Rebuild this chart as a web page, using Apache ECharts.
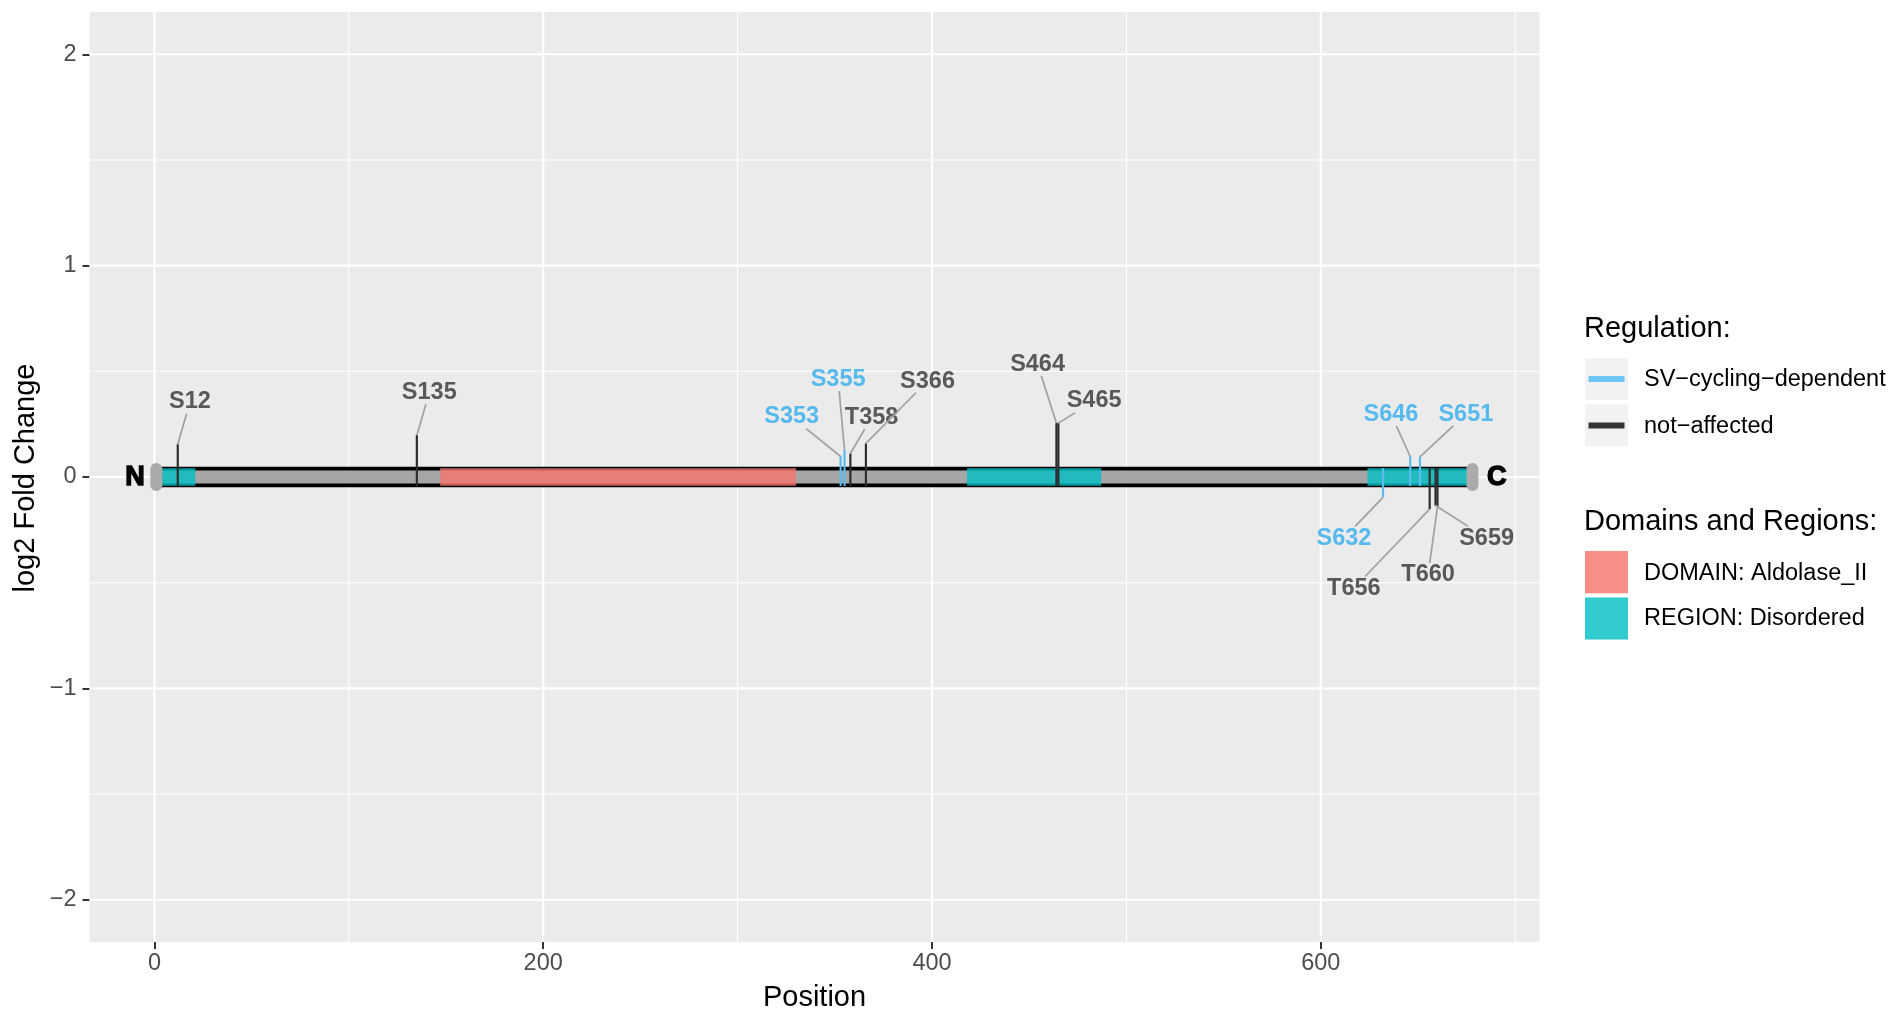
<!DOCTYPE html>
<html><head><meta charset="utf-8">
<script src="https://cdn.jsdelivr.net/npm/echarts@6/dist/echarts.min.js"></script>
<style>html,body{margin:0;padding:0;background:#fff}#c{width:1897px;height:1012px}</style>
</head><body><div id="c"></div>
<script>
// ---------------- data ----------------
const proteinLength = 678;
const domainNames = ['DOMAIN: Aldolase_II', 'REGION: Disordered', 'REGION: Disordered', 'REGION: Disordered'];
const domainStart = [147, 1, 418, 624];
const domainEnd = [330, 21, 487, 678];

const siteNames = ['S12', 'S135', 'S353', 'S355', 'T358', 'S366', 'S464', 'S465', 'S632', 'S646', 'S651', 'T656', 'S659', 'T660'];
const sitePos = [12, 135, 353, 355, 358, 366, 464, 465, 632, 646, 651, 656, 659, 660];
const siteLFC = [0.155, 0.198, 0.097, 0.127, 0.111, 0.159, 0.255, 0.255, -0.096, 0.097, 0.095, -0.152, -0.135, -0.142];
const siteRegulation = ['not-affected', 'not-affected', 'SV-cycling-dependent', 'SV-cycling-dependent', 'not-affected', 'not-affected', 'not-affected', 'not-affected', 'SV-cycling-dependent', 'SV-cycling-dependent', 'SV-cycling-dependent', 'not-affected', 'not-affected', 'not-affected'];
// repelled label positions (data units)
const labelX = [18.3, 141.4, 327.8, 351.7, 368.9, 397.7, 454.3, 483.4, 611.9, 636.1, 674.6, 617.0, 685.3, 655.2];
const labelY = [0.355, 0.400, 0.284, 0.462, 0.282, 0.454, 0.533, 0.360, -0.289, 0.297, 0.297, -0.526, -0.289, -0.462];

const xMajorTicks = [0, 200, 400, 600];
const xMinorTicks = [100, 300, 500, 700];
const yMajorTicks = [-2, -1, 0, 1, 2];
const yMinorTicks = [-1.5, -0.5, 0.5, 1.5];

const regulationLevels = ['SV-cycling-dependent', 'not-affected'];
const regulationLabels = ['SV\u2212cycling\u2212dependent', 'not\u2212affected'];
const domainLevels = ['DOMAIN: Aldolase_II', 'REGION: Disordered'];

// ---------------- styles ----------------
const FONT = '"Liberation Sans", Arial, Helvetica, sans-serif';
const regColor = {'SV-cycling-dependent': '#5ABBF0', 'not-affected': '#2E2E2E'};
const regTextColor = {'SV-cycling-dependent': '#56B9EE', 'not-affected': '#595959'};
const domColor = {'DOMAIN: Aldolase_II': 'rgba(248,118,109,0.8)', 'REGION: Disordered': 'rgba(0,191,196,0.8)'};

const measureCtx = document.createElement('canvas').getContext('2d');
measureCtx.font = 'bold 23.5px ' + FONT;

const chart = echarts.init(document.getElementById('c'), null, {renderer: 'canvas'});

const gridItems = [];
xMajorTicks.forEach(v => gridItems.push([v, 0]));
xMinorTicks.forEach(v => gridItems.push([v, 1]));
yMajorTicks.forEach(v => gridItems.push([v, 2]));
yMinorTicks.forEach(v => gridItems.push([v, 3]));

const fmtNum = v => v < 0 ? '\u2212' + Math.abs(v) : String(v);

const option = {
  animation: false,
  backgroundColor: '#ffffff',
  grid: {left: 89.5, right: 357.5, top: 12, bottom: 70, show: true, backgroundColor: '#EBEBEB', borderWidth: 0},
  xAxis: {
    type: 'value', min: -33.4, max: 712.5, position: 'bottom',
    axisLine: {show: false, onZero: false},
    splitLine: {show: false},
    axisTick: {show: true, inside: false, length: 7, lineStyle: {color: '#333333', width: 2}, customValues: xMajorTicks},
    axisLabel: {customValues: xMajorTicks, fontSize: 23.5, color: '#4D4D4D', fontFamily: FONT, margin: 10, formatter: fmtNum}
  },
  yAxis: {
    type: 'value', min: -2.2, max: 2.2, position: 'left',
    axisLine: {show: false, onZero: false},
    splitLine: {show: false},
    axisTick: {show: true, inside: false, length: 7, lineStyle: {color: '#333333', width: 2}, customValues: yMajorTicks},
    axisLabel: {customValues: yMajorTicks, fontSize: 23.5, color: '#4D4D4D', fontFamily: FONT, margin: 13, formatter: fmtNum}
  },
  series: [
    // grid lines
    {
      type: 'custom', silent: true, clip: false,
      data: gridItems,
      renderItem: (params, api) => {
        const v = api.value(0), k = api.value(1);
        const cs = params.coordSys;
        if (k < 2) {
          const x = api.coord([v, 0])[0];
          return {type: 'line', shape: {x1: x, y1: cs.y, x2: x, y2: cs.y + cs.height}, style: {stroke: '#FFFFFF', lineWidth: k === 0 ? 2.2 : 1.1}};
        } else {
          const y = api.coord([0, v])[1];
          return {type: 'line', shape: {x1: cs.x, y1: y, x2: cs.x + cs.width, y2: y}, style: {stroke: '#FFFFFF', lineWidth: k === 2 ? 2.2 : 1.1}};
        }
      }
    },
    // backbone
    {
      type: 'custom', silent: true,
      data: [[1, proteinLength]],
      renderItem: (params, api) => {
        const a = api.coord([api.value(0), 0]);
        const b = api.coord([api.value(1), 0]);
        return {type: 'group', children: [
          {type: 'rect', shape: {x: a[0], y: a[1] - 10.3, width: b[0] - a[0], height: 20.6}, style: {fill: '#000000'}},
          {type: 'rect', shape: {x: a[0], y: a[1] - 6.6, width: b[0] - a[0], height: 13.2}, style: {fill: '#A6A6A6'}}
        ]};
      }
    },
    // domains / regions
    {
      type: 'custom', silent: true,
      data: domainStart.map((s, i) => [s, domainEnd[i], i]),
      renderItem: (params, api) => {
        const a = api.coord([api.value(0), 0]);
        const b = api.coord([api.value(1), 0]);
        const name = domainNames[api.value(2)];
        return {type: 'rect', shape: {x: a[0], y: a[1] - 8.7, width: b[0] - a[0], height: 17.4}, style: {fill: domColor[name]}};
      }
    },
    // terminal caps
    {
      type: 'custom', silent: true,
      data: [[1, 0], [proteinLength, 0]],
      renderItem: (params, api) => {
        const p = api.coord([api.value(0), 0]);
        return {type: 'rect', shape: {x: p[0] - 6, y: p[1] - 14, width: 12, height: 28, r: 6}, style: {fill: '#AAAAAA'}};
      }
    },
    // phosphosite lines
    {
      type: 'custom', silent: true,
      data: sitePos.map((p, i) => [p, siteLFC[i], i]),
      renderItem: (params, api) => {
        const i = api.value(2);
        const v = api.value(1);
        const top = api.coord([api.value(0), v]);
        const base = api.coord([api.value(0), 0]);
        const by = v >= 0 ? base[1] + 9 : base[1] - 9;
        return {type: 'line', shape: {x1: top[0], y1: by, x2: top[0], y2: top[1]}, style: {stroke: regColor[siteRegulation[i]], lineWidth: 2.2}};
      }
    },
    // repel connectors + labels
    {
      type: 'custom', silent: true, clip: false,
      data: labelX.map((x, i) => [x, labelY[i], i]),
      renderItem: (params, api) => {
        const i = api.value(2);
        const c = api.coord([labelX[i], labelY[i]]);
        const p = api.coord([sitePos[i], siteLFC[i]]);
        const tw = measureCtx.measureText(siteNames[i]).width;
        const hw = tw / 2 + 5.5, hh = 11.7;
        const dx = p[0] - c[0], dy = p[1] - c[1];
        const t = Math.min(Math.abs(dx) > 0 ? hw / Math.abs(dx) : Infinity, Math.abs(dy) > 0 ? hh / Math.abs(dy) : Infinity);
        const children = [];
        if (t < 1) {
          children.push({type: 'line', shape: {x1: p[0], y1: p[1], x2: c[0] + dx * t, y2: c[1] + dy * t}, style: {stroke: '#A0A0A0', lineWidth: 1.7}});
        }
        children.push({type: 'text', x: c[0], y: c[1], style: {text: siteNames[i], fill: regTextColor[siteRegulation[i]], font: 'bold 23.5px ' + FONT, align: 'center', verticalAlign: 'middle'}});
        return {type: 'group', children: children};
      }
    },
    // N / C terminal labels
    {
      type: 'custom', silent: true, clip: false,
      data: [[-10, 0, 0], [proteinLength + 12.5, 0, 1]],
      renderItem: (params, api) => {
        const p = api.coord([api.value(0), 0]);
        return {type: 'text', x: p[0], y: p[1] + 1, style: {text: api.value(2) === 0 ? 'N' : 'C', fill: '#000', stroke: '#000', lineWidth: 1.4, font: 'bold 27px ' + FONT, align: 'center', verticalAlign: 'middle'}};
      }
    }
  ],
  graphic: [
    {type: 'text', x: 25.5, y: 478, rotation: Math.PI / 2, style: {text: 'log2 Fold Change', font: '29px ' + FONT, fill: '#000', align: 'center', verticalAlign: 'middle'}},
    {type: 'text', x: 814.5, y: 998, style: {text: 'Position', font: '29px ' + FONT, fill: '#000', align: 'center', verticalAlign: 'middle'}},
    // legend: Regulation
    {type: 'text', x: 1584, y: 329.3, style: {text: 'Regulation:', font: '29px ' + FONT, fill: '#000', align: 'left', verticalAlign: 'middle'}},
    {type: 'rect', shape: {x: 1585, y: 358, width: 43, height: 42}, style: {fill: '#F2F2F2'}},
    {type: 'rect', shape: {x: 1585, y: 404.5, width: 43, height: 42}, style: {fill: '#F2F2F2'}},
    {type: 'line', shape: {x1: 1588.5, y1: 379, x2: 1624.5, y2: 379}, style: {stroke: '#6EC6F5', lineWidth: 6}},
    {type: 'line', shape: {x1: 1588.5, y1: 425.5, x2: 1624.5, y2: 425.5}, style: {stroke: '#333333', lineWidth: 6}},
    {type: 'text', x: 1644, y: 380, style: {text: regulationLabels[0], font: '23.5px ' + FONT, fill: '#000', align: 'left', verticalAlign: 'middle'}},
    {type: 'text', x: 1644, y: 426.7, style: {text: regulationLabels[1], font: '23.5px ' + FONT, fill: '#000', align: 'left', verticalAlign: 'middle'}},
    // legend: Domains
    {type: 'text', x: 1584, y: 521.7, style: {text: 'Domains and Regions:', font: '29px ' + FONT, fill: '#000', align: 'left', verticalAlign: 'middle'}},
    {type: 'rect', shape: {x: 1585, y: 551, width: 43, height: 42.3}, style: {fill: '#F2F2F2'}},
    {type: 'rect', shape: {x: 1585, y: 597.5, width: 43, height: 42}, style: {fill: '#F2F2F2'}},
    {type: 'rect', shape: {x: 1585, y: 551, width: 43, height: 42.3}, style: {fill: domColor[domainLevels[0]]}},
    {type: 'rect', shape: {x: 1585, y: 597.5, width: 43, height: 42}, style: {fill: domColor[domainLevels[1]]}},
    {type: 'text', x: 1644, y: 573.3, style: {text: domainLevels[0], font: '23.5px ' + FONT, fill: '#000', align: 'left', verticalAlign: 'middle'}},
    {type: 'text', x: 1644, y: 618.3, style: {text: domainLevels[1], font: '23.5px ' + FONT, fill: '#000', align: 'left', verticalAlign: 'middle'}}
  ]
};
chart.setOption(option);
</script>
</body></html>
